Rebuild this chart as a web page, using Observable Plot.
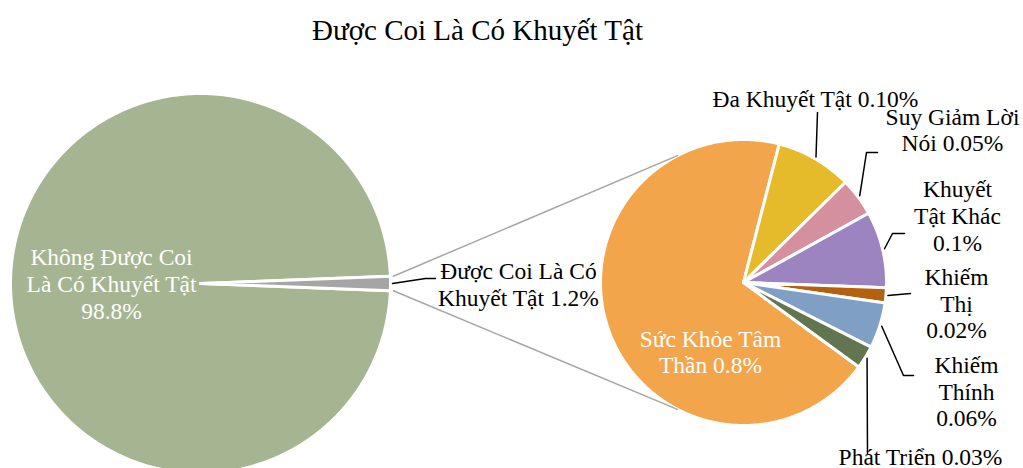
<!DOCTYPE html>
<html>
<head>
<meta charset="utf-8">
<script src="https://cdn.jsdelivr.net/npm/d3@7"></script>
<script src="https://cdn.jsdelivr.net/npm/@observablehq/plot@0.6"></script>
<style>
  html, body { margin: 0; padding: 0; background: #fff; overflow: hidden; }
  #wrap { position: relative; width: 1023px; height: 468px; }
  #title { position: absolute; left: 0; top: 0; width: 955px; text-align: center;
           font-family: "Liberation Serif", "Times New Roman", serif; font-size: 29px;
           line-height: 60px; color: #000; }
  #chart { position: absolute; left: 0; top: 60px; }
</style>
</head>
<body>
<div id="wrap">
  <div id="title">Được Coi Là Có Khuyết Tật</div>
  <div id="chart"></div>
</div>
<script>
// ---- data ----
const mainLabels = ["Không Được Coi Là Có Khuyết Tật", "Được Coi Là Có Khuyết Tật"];
const mainValues = [98.8, 1.2];
const mainColors = ["#a5b592", "#a5a5a5"];

const subLabels = ["Sức Khỏe Tâm Thần", "Đa Khuyết Tật", "Suy Giảm Lời Nói", "Khuyết Tật Khác", "Khiếm Thị", "Khiếm Thính", "Phát Triển"];
const subValues = [0.8, 0.10, 0.05, 0.1, 0.02, 0.06, 0.03];
const subValueText = ["0.8%", "0.10%", "0.05%", "0.1%", "0.02%", "0.06%", "0.03%"];
const subColors = ["#f2a54a", "#e5bb2c", "#d4909f", "#9c84c0", "#b4600e", "#7f9fc5", "#627551"];

// ---- layout ----
const W = 1023, H = 408;
const font = "Liberation Serif, Times New Roman, serif";
const deg = Math.PI / 180;
const left = {cx: 200, cy: 223, r: 190};
const right = {cx: 743, cy: 222, r: 143};

function pt(c, a, r) { return [c.cx + r * Math.sin(a), c.cy - r * Math.cos(a)]; }

function slices(c, labels, values, colors, start) {
  const arcs = d3.pie().sort(null).value(d => d).startAngle(start).endAngle(start + 2 * Math.PI)(values);
  const pts = [];
  arcs.forEach((a, i) => {
    const id = labels[i];
    pts.push({id, color: colors[i], x: c.cx, y: c.cy});
    const n = Math.max(2, Math.ceil((a.endAngle - a.startAngle) / (0.5 * deg)));
    for (let k = 0; k <= n; k++) {
      const t = a.startAngle + (a.endAngle - a.startAngle) * k / n;
      const [x, y] = pt(c, t, c.r);
      pts.push({id, color: colors[i], x, y});
    }
    pts.push({id, color: colors[i], x: c.cx, y: c.cy});
  });
  return {arcs, pts};
}

const mainStart = (90 + mainValues[1] / d3.sum(mainValues) * 180) * deg;
const L = slices(left, mainLabels, mainValues, mainColors, mainStart);
const R = slices(right, subLabels, subValues, subColors, 126.2 * deg);

// connectors between the two pies
const grayArc = L.arcs[1];
const c1 = pt(left, grayArc.startAngle, left.r + 3);
const c2 = pt(left, grayArc.endAngle, left.r + 3);
const d1 = pt(right, 332.5 * deg, right.r);
const d2 = pt(right, 207.5 * deg, right.r);
const connectors = [
  {id: "top", x: c1[0], y: c1[1]}, {id: "top", x: d1[0], y: d1[1]},
  {id: "bot", x: c2[0], y: c2[1]}, {id: "bot", x: d2[0], y: d2[1]}
];

// leader lines: start at slice mid-angle on the rim, then layout elbows
const mid = a => (a.startAngle + a.endAngle) / 2;
const leaderLayout = [
  {arc: L.arcs[1], c: left, pts: [[425, 218], [435, 218]]},
  {arc: R.arcs[1], c: right, pts: [[817, 52]]},
  {arc: R.arcs[2], c: right, pts: [[866, 92], [877, 92]]},
  {arc: R.arcs[3], c: right, pts: [[892, 173], [904, 173]]},
  {arc: R.arcs[4], c: right, pts: [[910, 233]]},
  {arc: R.arcs[5], c: right, pts: [[903, 315], [913, 315]]},
  {arc: R.arcs[6], c: right, pts: [[867, 393]]}
];
const leaders = [];
leaderLayout.forEach((l, i) => {
  const [sx, sy] = pt(l.c, mid(l.arc), l.c.r + 2);
  leaders.push({id: i, x: sx, y: sy});
  l.pts.forEach(([x, y]) => leaders.push({id: i, x, y}));
});

// labels
const labels = [
  {text: "Không Được Coi\nLà Có Khuyết Tật\n" + mainValues[0] + "%", x: 111, y: 223, fill: "white"},
  {text: "Được Coi Là Có\nKhuyết Tật " + mainValues[1] + "%", x: 518, y: 223.5, fill: "black"},
  {text: "Sức Khỏe Tâm\nThần " + subValueText[0], x: 710, y: 291, fill: "white"},
  {text: subLabels[1] + " " + subValueText[1], x: 815, y: 37.5, fill: "black"},
  {text: "Suy Giảm Lời\nNói " + subValueText[2], x: 952, y: 69, fill: "black"},
  {text: "Khuyết\nTật Khác\n" + subValueText[3], x: 957, y: 155, fill: "black"},
  {text: "Khiếm\nThị\n" + subValueText[4], x: 956, y: 242.5, fill: "black"},
  {text: "Khiếm\nThính\n" + subValueText[5], x: 966, y: 330.5, fill: "black"},
  {text: subLabels[6] + " " + subValueText[6], x: 920, y: 395.5, fill: "black"}
];

const chart = Plot.plot({
  width: W, height: H, margin: 0,
  style: {background: "white", overflow: "hidden"},
  x: {domain: [0, W], range: [0, W], axis: null},
  y: {domain: [0, H], range: [0, H], axis: null},
  marks: [
    Plot.line(L.pts, {x: "x", y: "y", z: "id", fill: "color", stroke: "white", strokeWidth: 3, curve: "linear"}),
    Plot.line(R.pts, {x: "x", y: "y", z: "id", fill: "color", stroke: "white", strokeWidth: 3, curve: "linear"}),
    Plot.line(connectors, {x: "x", y: "y", z: "id", stroke: "#a6a6a6", strokeWidth: 1.5}),
    Plot.line(leaders, {x: "x", y: "y", z: "id", stroke: "black", strokeWidth: 1.5, curve: "linear"}),
    Plot.text(labels, {x: "x", y: "y", text: "text", fill: "fill", fontFamily: font, fontSize: 23.5,
      lineHeight: 1.13, lineAnchor: "middle", textAnchor: "middle"})
  ]
});
document.getElementById("chart").appendChild(chart);
</script>
</body>
</html>
